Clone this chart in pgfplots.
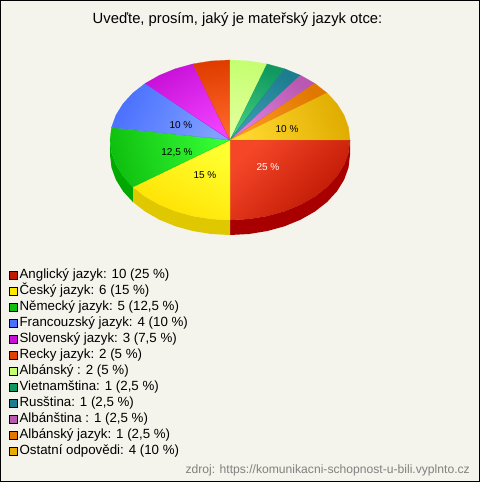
\documentclass[border=0pt]{standalone}
\usepackage{pgfplots}
\pgfplotsset{compat=1.18}
\usepackage{fontspec}
\setmainfont{Liberation Sans}
\definecolor{bgc}{HTML}{F4F4EC}
\pgfplotsset{
  wedge/.style n args={4}{
    draw=#2, line width=0.2pt, top color=#1, bottom color=#2, shading angle=#3,
    forget plot=false,
    legend image code/.code={\draw[top color=#4,bottom color=#4,draw=black,line width=0.8bp] (0bp,-2.4bp) rectangle (7.6bp,5.4bp);}
  }
}
\begin{document}
\begin{tikzpicture}
\begin{axis}[
  x=1bp,y=1bp,
  scale only axis,
  width=479bp,height=481bp,
  xmin=0.5,xmax=479.5,ymin=0.5,ymax=481.5,
  y dir=reverse,
  xtick=\empty,ytick=\empty,
  axis line style={black,line width=1bp},
  axis background/.style={fill=bgc},
  legend cell align=left,
  legend style={at={(axis cs:9.2,268.5)},anchor=north west,draw=none,fill=none,
    inner sep=0pt,outer sep=0pt,row sep=0pt,
    font=\fontsize{13.3bp}{14bp}\selectfont,
    nodes={inner xsep=2bp,inner ysep=0bp,text height=10bp,text depth=6.03bp,anchor=west}},
]
% side walls
\addplot[forget plot,draw=none,fill={rgb,255:red,168;green,0;blue,0}] coordinates {(350,140)(348.52,152.51)(344.13,164.72)(336.92,176.32)(327.08,187.02)(314.85,196.57)(300.53,204.72)(284.48,211.28)(267.08,216.08)(248.77,219.02)(230,220)(230,235)(248.77,234.02)(267.08,231.08)(284.48,226.28)(300.53,219.72)(314.85,211.57)(327.08,202.02)(336.92,191.32)(344.13,179.72)(348.52,167.51)(350,155)} --cycle;
\addplot[forget plot,draw=none,fill={rgb,255:red,224;green,200;blue,0}] coordinates {(230,220)(211.23,219.02)(192.92,216.08)(175.52,211.28)(159.47,204.72)(145.15,196.57)(132.92,187.02)(132.92,202.02)(145.15,211.57)(159.47,219.72)(175.52,226.28)(192.92,231.08)(211.23,234.02)(230,235)} --cycle;
\addplot[forget plot,draw=none,fill={rgb,255:red,0;green,168;blue,0}] coordinates {(132.92,187.02)(123.08,176.32)(115.87,164.72)(111.48,152.51)(110,140)(110,155)(111.48,167.51)(115.87,179.72)(123.08,191.32)(132.92,202.02)} --cycle;
% top wedges
\addplot[wedge={{rgb,255:red,245;green,70;blue,40}}{{rgb,255:red,186;green,20;blue,0}}{45}{{rgb,255:red,192;green,24;blue,0}}] coordinates {(230,140)(350,140)(348.52,152.51)(344.13,164.72)(336.92,176.32)(327.08,187.02)(314.85,196.57)(300.53,204.72)(284.48,211.28)(267.08,216.08)(248.77,219.02)(230,220)} --cycle;
\addlegendentry{Anglický jazyk: 10 (25 \%)}
\addplot[wedge={{rgb,255:red,255;green,255;blue,48}}{{rgb,255:red,255;green,224;blue,0}}{-27}{{rgb,255:red,255;green,232;blue,0}}] coordinates {(230,140)(230,220)(211.23,219.02)(192.92,216.08)(175.52,211.28)(159.47,204.72)(145.15,196.57)(132.92,187.02)} --cycle;
\addlegendentry{Český jazyk: 6 (15 \%)}
\addplot[wedge={{rgb,255:red,53;green,255;blue,53}}{{rgb,255:red,16;green,192;blue,16}}{-76.5}{{rgb,255:red,16;green,190;blue,16}}] coordinates {(230,140)(132.92,187.02)(123.08,176.32)(115.87,164.72)(111.48,152.51)(110,140)(111.48,127.49)} --cycle;
\addlegendentry{Německý jazyk: 5 (12,5 \%)}
\addplot[wedge={{rgb,255:red,127;green,160;blue,255}}{{rgb,255:red,74;green,112;blue,255}}{-117}{{rgb,255:red,72;green,112;blue,255}}] coordinates {(230,140)(111.48,127.49)(115.87,115.28)(123.08,103.68)(132.92,92.98)(145.15,83.43)} --cycle;
\addlegendentry{Francouzský jazyk: 4 (10 \%)}
\addplot[wedge={{rgb,255:red,240;green,64;blue,255}}{{rgb,255:red,200;green,16;blue,216}}{-148.5}{{rgb,255:red,200;green,16;blue,216}}] coordinates {(230,140)(145.15,83.43)(159.47,75.28)(175.52,68.72)(192.92,63.92)} --cycle;
\addlegendentry{Slovenský jazyk: 3 (7,5 \%)}
\addplot[wedge={{rgb,255:red,255;green,106;blue,42}}{{rgb,255:red,224;green,60;blue,0}}{-171}{{rgb,255:red,224;green,64;blue,0}}] coordinates {(230,140)(192.92,63.92)(211.23,60.98)(230,60)} --cycle;
\addlegendentry{Recky jazyk: 2 (5 \%)}
\addplot[wedge={{rgb,255:red,228;green,255;blue,160}}{{rgb,255:red,196;green,255;blue,112}}{-189}{{rgb,255:red,196;green,255;blue,112}}] coordinates {(230,140)(230,60)(248.77,60.98)(267.08,63.92)} --cycle;
\addlegendentry{Albánský : 2 (5 \%)}
\addplot[wedge={{rgb,255:red,64;green,208;blue,128}}{{rgb,255:red,16;green,152;blue,96}}{-202.5}{{rgb,255:red,16;green,152;blue,96}}] coordinates {(230,140)(267.08,63.92)(284.48,68.72)} --cycle;
\addlegendentry{Vietnamština: 1 (2,5 \%)}
\addplot[wedge={{rgb,255:red,60;green,156;blue,176}}{{rgb,255:red,28;green,124;blue,144}}{-211.5}{{rgb,255:red,28;green,124;blue,144}}] coordinates {(230,140)(284.48,68.72)(300.53,75.28)} --cycle;
\addlegendentry{Rusština: 1 (2,5 \%)}
\addplot[wedge={{rgb,255:red,224;green,128;blue,224}}{{rgb,255:red,184;green,88;blue,176}}{-220.5}{{rgb,255:red,184;green,88;blue,176}}] coordinates {(230,140)(300.53,75.28)(314.85,83.43)} --cycle;
\addlegendentry{Albánština : 1 (2,5 \%)}
\addplot[wedge={{rgb,255:red,255;green,152;blue,32}}{{rgb,255:red,224;green,120;blue,0}}{-229.5}{{rgb,255:red,224;green,120;blue,0}}] coordinates {(230,140)(314.85,83.43)(327.08,92.98)} --cycle;
\addlegendentry{Albánský jazyk: 1 (2,5 \%)}
\addplot[wedge={{rgb,255:red,255;green,216;blue,48}}{{rgb,255:red,224;green,172;blue,0}}{-252}{{rgb,255:red,232;green,172;blue,0}}] coordinates {(230,140)(327.08,92.98)(336.92,103.68)(344.13,115.28)(348.52,127.49)(350,140)} --cycle;
\addlegendentry{Ostatní odpovědi: 4 (10 \%)}
% labels
\node[font=\fontsize{10bp}{12bp}\selectfont,white] at (axis cs:268,167) {25 \%};
\node[font=\fontsize{10bp}{12bp}\selectfont] at (axis cs:205,175) {15 \%};
\node[font=\fontsize{10bp}{12bp}\selectfont] at (axis cs:177,153) {12,5 \%};
\node[font=\fontsize{10bp}{12bp}\selectfont] at (axis cs:181,125) {10 \%};
\node[font=\fontsize{10bp}{12bp}\selectfont] at (axis cs:287,129) {10 \%};
\node[font=\fontsize{14.8bp}{16bp}\selectfont] at (axis cs:237.5,20) {Uveďte, prosím, jaký je mateřský jazyk otce:};
\node[font=\fontsize{12.13bp}{14bp}\selectfont,text={rgb,255:red,128;green,128;blue,128},anchor=east,inner sep=0pt] at (axis cs:470,470) {zdroj: https://komunikacni-schopnost-u-bili.vyplnto.cz};
\end{axis}
\end{tikzpicture}
\end{document}
